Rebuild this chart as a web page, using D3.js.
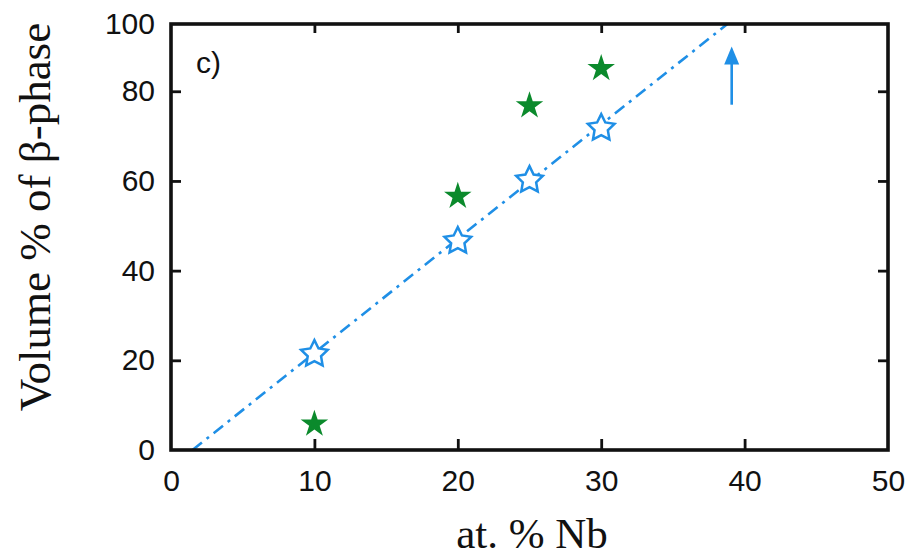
<!DOCTYPE html>
<html>
<head>
<meta charset="utf-8">
<script src="https://cdn.jsdelivr.net/npm/d3@7"></script>
<style>
  html, body { margin: 0; padding: 0; background: #fff; }
  svg { display: block; }
</style>
</head>
<body>
<svg id="chart" width="914" height="559"></svg>
<script>
// ---- data ----
const nb = [10, 20, 25, 30];                       // at. % Nb
const betaFilled = [6.0, 56.8, 77.0, 85.3];        // green filled stars
const betaOpen = [21.6, 46.8, 60.4, 72.0];         // blue open stars
const fitX = [1.5, 38.8];                          // dash-dot guide line
const fitY = [0, 95];
const arrowX = 39.1;
const arrowY = [77, 90];
const xTicks = [0, 10, 20, 30, 40, 50];
const yTicks = [0, 20, 40, 60, 80, 95];
const yTickLabels = ["0", "20", "40", "60", "80", "100"];
const xDomain = [0, 50];
const yDomain = [0, 95];

// ---- layout ----
const svg = d3.select("#chart");
const m = { left: 171, right: 914 - 888, top: 24, bottom: 559 - 450 };
const W = 914, H = 559;
const x = d3.scaleLinear().domain(xDomain).range([m.left, W - m.right]);
const y = d3.scaleLinear().domain(yDomain).range([H - m.bottom, m.top]);

const blue = "#1f8fe6";
const green = "#0b8a2c";
const sans = "Liberation Sans, Arial, sans-serif";
const serif = "Liberation Serif, Times New Roman, serif";

// guide line
svg.append("path")
  .datum(fitX.map((d, i) => [d, fitY[i]]))
  .attr("d", d3.line().x(d => x(d[0])).y(d => y(d[1])))
  .attr("fill", "none")
  .attr("stroke", blue)
  .attr("stroke-width", 2.6)
  .attr("stroke-dasharray", "12,6,3,6");

// arrow
svg.append("line")
  .attr("x1", x(arrowX)).attr("x2", x(arrowX))
  .attr("y1", y(arrowY[0])).attr("y2", y(arrowY[1]) + 10)
  .attr("stroke", blue).attr("stroke-width", 2.6);
svg.append("path")
  .attr("d", `M${x(arrowX)},${y(arrowY[1])} L${x(arrowX) - 7.5},${y(arrowY[1]) + 18} L${x(arrowX) + 7.5},${y(arrowY[1]) + 18} Z`)
  .attr("fill", blue);

// custom fat star for open symbols
const fatStar = {
  draw(ctx, size) {
    const R = Math.sqrt(size), r = R * 0.5;
    for (let i = 0; i < 10; i++) {
      const a = -Math.PI / 2 + i * Math.PI / 5;
      const rr = i % 2 ? r : R;
      if (i === 0) ctx.moveTo(rr * Math.cos(a), rr * Math.sin(a));
      else ctx.lineTo(rr * Math.cos(a), rr * Math.sin(a));
    }
    ctx.closePath();
  }
};

svg.append("g").selectAll("path")
  .data(nb.map((d, i) => [d, betaOpen[i]]))
  .join("path")
  .attr("transform", d => `translate(${x(d[0])},${y(d[1]) + 1})`)
  .attr("d", d3.symbol().type(fatStar).size(14 * 14))
  .attr("fill", "#fff")
  .attr("stroke", blue)
  .attr("stroke-width", 2.5)
  .attr("stroke-linejoin", "miter");

svg.append("g").selectAll("path")
  .data(nb.map((d, i) => [d, betaFilled[i]]))
  .join("path")
  .attr("transform", d => `translate(${x(d[0])},${y(d[1]) + 1})`)
  .attr("d", d3.symbol().type(d3.symbolStar).size(235))
  .attr("fill", green);

// frame
svg.append("rect")
  .attr("x", x(xDomain[0])).attr("y", y(yDomain[1]))
  .attr("width", x(xDomain[1]) - x(xDomain[0]))
  .attr("height", y(yDomain[0]) - y(yDomain[1]))
  .attr("fill", "none").attr("stroke", "#111").attr("stroke-width", 3.6);

// axes
const fmtY = d => yTickLabels[yTicks.indexOf(d)];
const xInner = xTicks.slice(1, -1), yInner = yTicks.slice(1, -1);

function styleAxis(g) {
  g.select(".domain").remove();
  g.selectAll(".tick line").attr("stroke", "#111").attr("stroke-width", 2.8);
  g.selectAll(".tick text").attr("font-family", sans).attr("font-size", 30).attr("fill", "#111");
}

// bottom axis labels + inward ticks
svg.append("g").attr("transform", `translate(0,${y(0)})`)
  .call(d3.axisBottom(x).tickValues(xTicks).tickSize(0).tickPadding(20).tickFormat(d3.format("d")))
  .call(styleAxis);
svg.append("g").attr("transform", `translate(0,${y(0)})`)
  .call(d3.axisTop(x).tickValues(xInner).tickSize(11).tickFormat(""))
  .call(styleAxis);
svg.append("g").attr("transform", `translate(0,${y(yDomain[1])})`)
  .call(d3.axisBottom(x).tickValues(xInner).tickSize(9).tickFormat(""))
  .call(styleAxis);

// left axis
svg.append("g").attr("transform", `translate(${x(0)},0)`)
  .call(d3.axisLeft(y).tickValues(yTicks).tickSize(0).tickPadding(16).tickFormat(fmtY))
  .call(styleAxis);
svg.append("g").attr("transform", `translate(${x(0)},0)`)
  .call(d3.axisRight(y).tickValues(yInner).tickSize(10).tickFormat(""))
  .call(styleAxis);
svg.append("g").attr("transform", `translate(${x(xDomain[1])},0)`)
  .call(d3.axisLeft(y).tickValues(yInner).tickSize(10).tickFormat(""))
  .call(styleAxis);

// titles
svg.append("text")
  .attr("x", 532).attr("y", 548)
  .attr("text-anchor", "middle")
  .attr("font-family", serif).attr("font-size", 43).attr("fill", "#111")
  .text("at. % Nb");
svg.append("text")
  .attr("transform", `translate(50,217) rotate(-90)`)
  .attr("text-anchor", "middle")
  .attr("font-family", serif).attr("font-size", 45).attr("fill", "#111")
  .text("Volume % of β-phase");

// panel label
svg.append("text")
  .attr("x", 196).attr("y", 73)
  .attr("font-family", sans).attr("font-size", 30).attr("fill", "#111")
  .text("c)");
</script>
</body>
</html>
